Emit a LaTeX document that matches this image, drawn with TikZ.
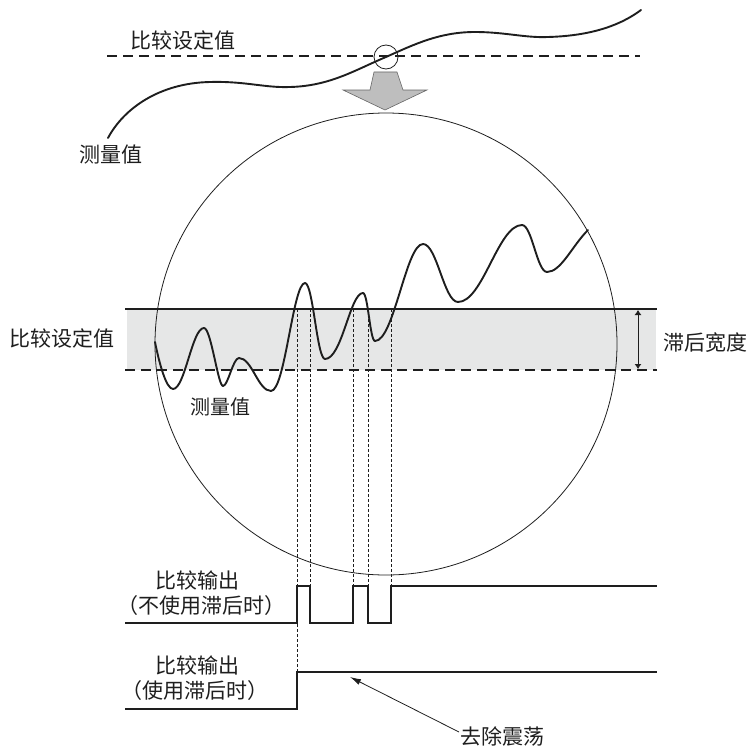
\documentclass[tikz,border=0pt]{standalone}
\usepackage{fontspec}
\setmainfont{Noto Sans CJK SC}
\usetikzlibrary{arrows.meta}
\definecolor{bandgrey}{RGB}{230,231,231}
\definecolor{arrowgrey}{RGB}{190,190,190}
\definecolor{ink}{RGB}{30,30,30}
\begin{document}
\begin{tikzpicture}[x=1pt,y=-1pt,
  lbl/.style={font=\fontsize{21}{24}\selectfont, inner sep=1pt, text=ink},
  smalllbl/.style={font=\fontsize{20}{23}\selectfont, inner sep=1pt, text=ink},
  wave/.style={line width=1.9pt, draw=ink, line join=round, line cap=round},
  bandline/.style={line width=1.5pt, draw=ink},
  setdash/.style={line width=1.5pt, draw=ink, dash pattern=on 10pt off 6pt},
  guide/.style={line width=0.6pt, draw=ink, dash pattern=on 3pt off 2pt},
  thinline/.style={line width=0.8pt, draw=ink},
  sig/.style={line width=1.8pt, draw=ink, line join=miter}
]
\useasboundingbox (0,0) rectangle (749,752);

% ---------- top part ----------
\draw[setdash] (107,56) -- (640,56);
\node[lbl] (topset) at (183,40) {比较设定值};
\node[lbl] (topmeas) at (111,155) {测量值};
\draw[wave] (108,138) .. controls (124,108) and (160,83) .. (210,82)
  .. controls (245,81) and (265,88) .. (290,87)
  .. controls (330,86) and (355,70) .. (386,57)
  .. controls (415,44) and (440,32) .. (475,32)
  .. controls (505,32) and (525,38) .. (548,37)
  .. controls (585,36) and (617,28) .. (641,10);
\draw[thinline] (386,57) circle (12);
\draw[fill=arrowgrey, draw=black!60, line width=0.6pt]
  (374,72) -- (397,72) -- (403,90) -- (427,90) -- (385,110) -- (343,90) -- (370,90) -- cycle;

% ---------- band ----------
\fill[bandgrey] (127,309) rectangle (656,370);
\draw[thinline] (386,344) circle (231);
\draw[bandline] (125,309) -- (657,309);
\draw[setdash] (125,370) -- (657,370);
\node[lbl] (leftset) at (62,338) {比较设定值};
\node[lbl] (hyst) at (705,343) {滞后宽度};
\coordinate (ha) at (638,310);
\coordinate (hb) at (638,369);
\draw[thinline, {Latex[length=5pt,width=7pt]}-{Latex[length=5pt,width=7pt]}] (ha) -- (hb);

% ---------- guides ----------
\draw[guide] (297,309) -- (297,672);
\draw[guide] (310,309) -- (310,586);
\draw[guide] (353,309) -- (353,586);
\draw[guide] (368,309) -- (368,586);
\draw[guide] (391,309) -- (391,586);

% ---------- measured value ----------
\draw[wave] (155,342) .. controls +(4,20) and +(-7,0) .. (173,389)
  .. controls +(12,0) and +(-12,0) .. (204,328)
  .. controls +(7,0) and +(-5,0) .. (223,386)
  .. controls +(5,0) and +(-6,0) .. (239,358)
  .. controls +(13,0) and +(-13,0) .. (271,391)
  .. controls +(14,0) and +(-12,0) .. (305,283)
  .. controls +(8,0) and +(-8,0) .. (325,359)
  .. controls +(17,0) and +(-13,0) .. (363,293)
  .. controls +(5,0) and +(-5,0) .. (375,341)
  .. controls +(19,0) and +(-17,0) .. (423,244)
  .. controls +(14,0) and +(-14,0) .. (458,302)
  .. controls +(25,0) and +(-24,0) .. (522,225)
  .. controls +(10,0) and +(-10,0) .. (547,272)
  .. controls +(14,0) and +(-16,16) .. (588,230);
\node[smalllbl] (innermeas) at (220,407) {测量值};

% ---------- outputs ----------
\node[lbl] (o1a) at (197,580) {比较输出};
\node[lbl] (o1b) at (201,606) {（不使用滞后时）};
\node[lbl] (o2a) at (197,665) {比较输出};
\node[lbl] (o2b) at (195,691) {（使用滞后时）};
\draw[sig] (125,623) -- (297,623) -- (297,586) -- (310,586) -- (310,623) -- (353,623)
  -- (353,586) -- (368,586) -- (368,623) -- (391,623) -- (391,586) -- (657,586);
\draw[sig] (125,709) -- (297,709) -- (297,672) -- (657,672);

\node[lbl, anchor=west] (rem) at (459,737) {去除震荡};
\coordinate (tipc) at (350,677);
\draw[thinline, -{Latex[length=11pt,width=6pt]}] ([yshift=-6pt]rem.north west) -- (tipc);
\end{tikzpicture}
\end{document}
